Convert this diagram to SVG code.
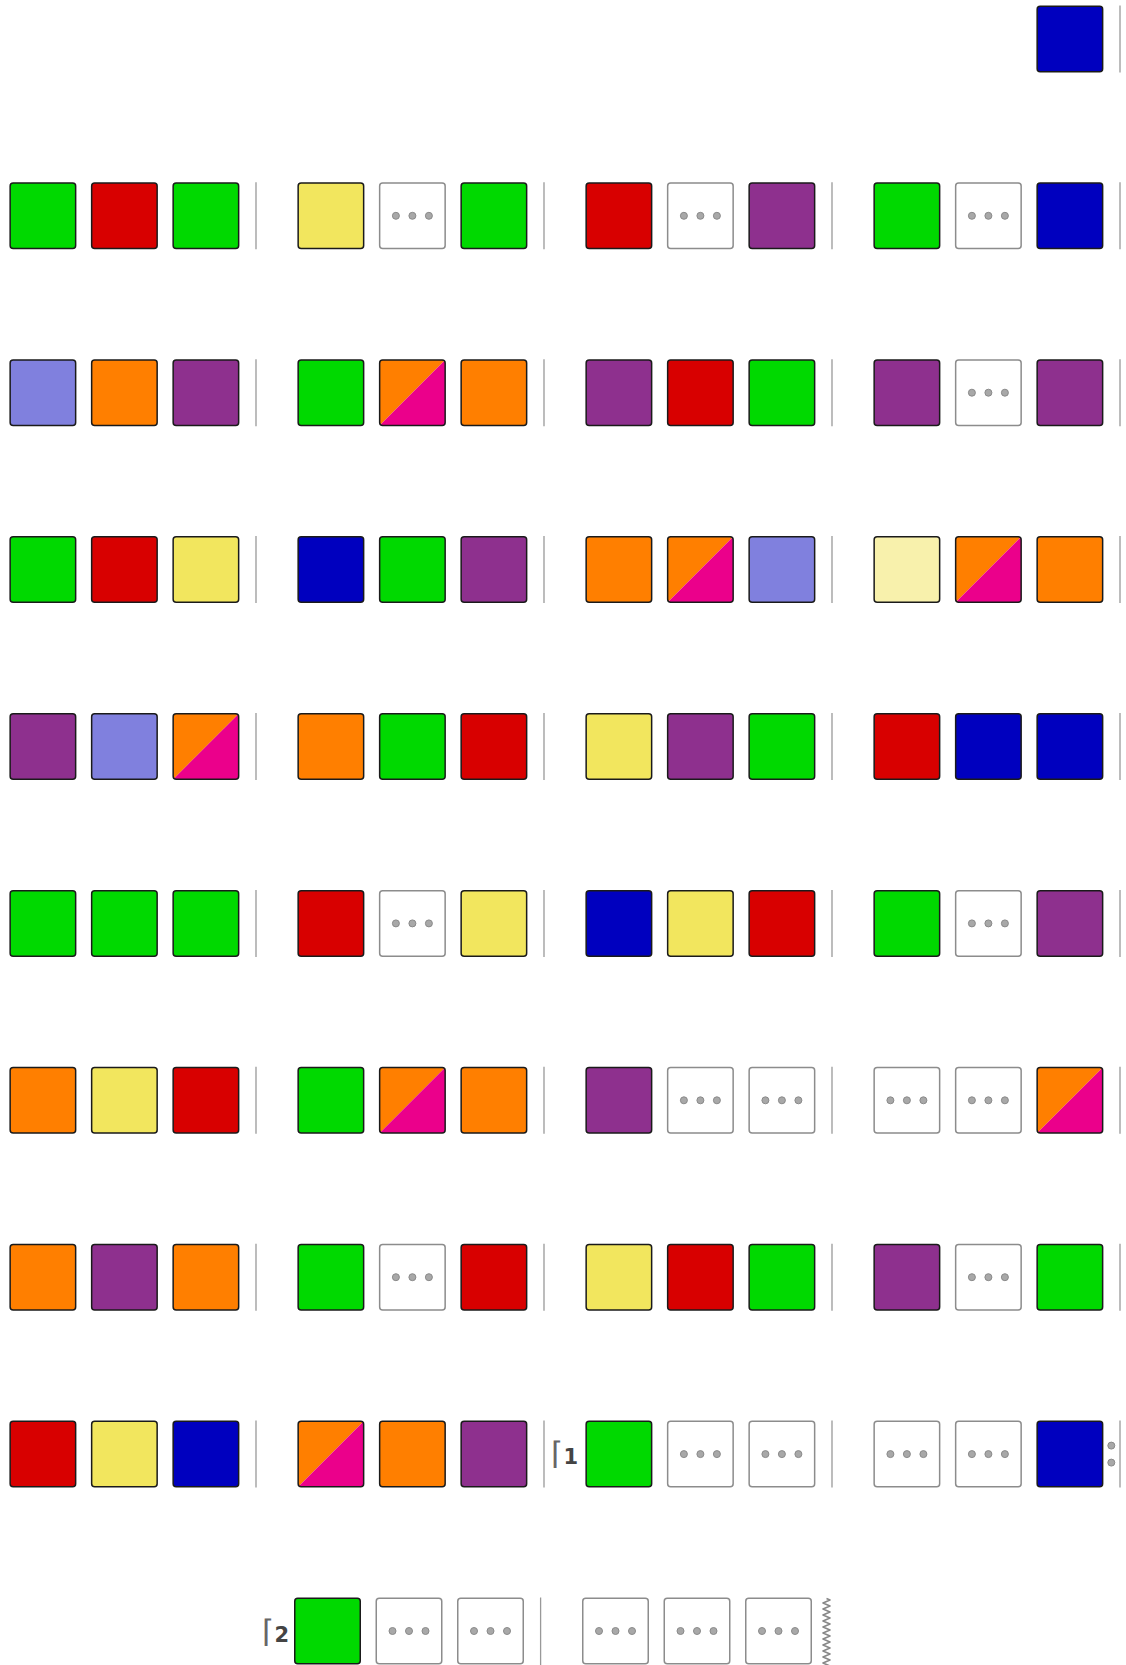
<svg xmlns="http://www.w3.org/2000/svg" xmlns:xlink="http://www.w3.org/1999/xlink" width="1126" height="1665" viewBox="0 0 1126 1665">
<style>
.box{stroke:#1a1a1a;stroke-width:1.5}
.G{fill:#00d900}.R{fill:#d80000}.Y{fill:#f2e65e}.B{fill:#0000bf}.P{fill:#8e308e}.L{fill:#8080de}.O{fill:#ff7f00}.V{fill:#f8f1ac}.M{fill:#eb008b}
.dbox{fill:#fff;stroke:#8c8c8c;stroke-width:1.5}
.dot{fill:#a8a8a8;stroke:#8a8a8a;stroke-width:1}
.bar{stroke:#999;stroke-width:1.3;fill:none}
.wavy{stroke:#888;stroke-width:1.6;fill:none;stroke-linejoin:round}
.volta{font-family:"DejaVu Sans",sans-serif;font-size:21px;fill:#444}
.ceil{font-size:31px;font-weight:200;fill:#666}
</style>
<defs>
<clipPath id="sqclip"><rect x="0.75" y="0.75" width="65.5" height="65.5" rx="3"/></clipPath>
<rect id="sq" class="box" x="0.75" y="0.75" width="65.5" height="65.5" rx="3"/>
<g id="split"><g clip-path="url(#sqclip)"><polygon class="O" points="0,0 67,0 0,67"/><polygon class="M" points="67,0 67,67 0,67"/></g><rect class="box" fill="none" x="0.75" y="0.75" width="65.5" height="65.5" rx="3"/></g>
<g id="dots"><rect class="dbox" x="0.75" y="0.75" width="65.5" height="65.5" rx="3"/><circle class="dot" cx="17" cy="33.5" r="3.5"/><circle class="dot" cx="33.5" cy="33.5" r="3.5"/><circle class="dot" cx="50" cy="33.5" r="3.5"/></g>
</defs>
<rect width="1126" height="1665" fill="#fff"/>

<g id="row0">
<g id="n0-4-3" transform="translate(1036.4,5.4)"><use href="#sq" class="B"/></g>
</g>

<g id="row1">
<g id="n1-1-1" transform="translate(9.4,182.3)"><use href="#sq" class="G"/></g>
<g id="n1-1-2" transform="translate(90.9,182.3)"><use href="#sq" class="R"/></g>
<g id="n1-1-3" transform="translate(172.4,182.3)"><use href="#sq" class="G"/></g>
<g id="n1-2-1" transform="translate(297.4,182.3)"><use href="#sq" class="Y"/></g>
<g id="n1-2-2" transform="translate(378.9,182.3)"><use href="#dots"/></g>
<g id="n1-2-3" transform="translate(460.4,182.3)"><use href="#sq" class="G"/></g>
<g id="n1-3-1" transform="translate(585.4,182.3)"><use href="#sq" class="R"/></g>
<g id="n1-3-2" transform="translate(666.9,182.3)"><use href="#dots"/></g>
<g id="n1-3-3" transform="translate(748.4,182.3)"><use href="#sq" class="P"/></g>
<g id="n1-4-1" transform="translate(873.4,182.3)"><use href="#sq" class="G"/></g>
<g id="n1-4-2" transform="translate(954.9,182.3)"><use href="#dots"/></g>
<g id="n1-4-3" transform="translate(1036.4,182.3)"><use href="#sq" class="B"/></g>
</g>

<g id="row2">
<g id="n2-1-1" transform="translate(9.4,359.2)"><use href="#sq" class="L"/></g>
<g id="n2-1-2" transform="translate(90.9,359.2)"><use href="#sq" class="O"/></g>
<g id="n2-1-3" transform="translate(172.4,359.2)"><use href="#sq" class="P"/></g>
<g id="n2-2-1" transform="translate(297.4,359.2)"><use href="#sq" class="G"/></g>
<g id="n2-2-2" transform="translate(378.9,359.2)"><use href="#split"/></g>
<g id="n2-2-3" transform="translate(460.4,359.2)"><use href="#sq" class="O"/></g>
<g id="n2-3-1" transform="translate(585.4,359.2)"><use href="#sq" class="P"/></g>
<g id="n2-3-2" transform="translate(666.9,359.2)"><use href="#sq" class="R"/></g>
<g id="n2-3-3" transform="translate(748.4,359.2)"><use href="#sq" class="G"/></g>
<g id="n2-4-1" transform="translate(873.4,359.2)"><use href="#sq" class="P"/></g>
<g id="n2-4-2" transform="translate(954.9,359.2)"><use href="#dots"/></g>
<g id="n2-4-3" transform="translate(1036.4,359.2)"><use href="#sq" class="P"/></g>
</g>

<g id="row3">
<g id="n3-1-1" transform="translate(9.4,536)"><use href="#sq" class="G"/></g>
<g id="n3-1-2" transform="translate(90.9,536)"><use href="#sq" class="R"/></g>
<g id="n3-1-3" transform="translate(172.4,536)"><use href="#sq" class="Y"/></g>
<g id="n3-2-1" transform="translate(297.4,536)"><use href="#sq" class="B"/></g>
<g id="n3-2-2" transform="translate(378.9,536)"><use href="#sq" class="G"/></g>
<g id="n3-2-3" transform="translate(460.4,536)"><use href="#sq" class="P"/></g>
<g id="n3-3-1" transform="translate(585.4,536)"><use href="#sq" class="O"/></g>
<g id="n3-3-2" transform="translate(666.9,536)"><use href="#split"/></g>
<g id="n3-3-3" transform="translate(748.4,536)"><use href="#sq" class="L"/></g>
<g id="n3-4-1" transform="translate(873.4,536)"><use href="#sq" class="V"/></g>
<g id="n3-4-2" transform="translate(954.9,536)"><use href="#split"/></g>
<g id="n3-4-3" transform="translate(1036.4,536)"><use href="#sq" class="O"/></g>
</g>

<g id="row4">
<g id="n4-1-1" transform="translate(9.4,713)"><use href="#sq" class="P"/></g>
<g id="n4-1-2" transform="translate(90.9,713)"><use href="#sq" class="L"/></g>
<g id="n4-1-3" transform="translate(172.4,713)"><use href="#split"/></g>
<g id="n4-2-1" transform="translate(297.4,713)"><use href="#sq" class="O"/></g>
<g id="n4-2-2" transform="translate(378.9,713)"><use href="#sq" class="G"/></g>
<g id="n4-2-3" transform="translate(460.4,713)"><use href="#sq" class="R"/></g>
<g id="n4-3-1" transform="translate(585.4,713)"><use href="#sq" class="Y"/></g>
<g id="n4-3-2" transform="translate(666.9,713)"><use href="#sq" class="P"/></g>
<g id="n4-3-3" transform="translate(748.4,713)"><use href="#sq" class="G"/></g>
<g id="n4-4-1" transform="translate(873.4,713)"><use href="#sq" class="R"/></g>
<g id="n4-4-2" transform="translate(954.9,713)"><use href="#sq" class="B"/></g>
<g id="n4-4-3" transform="translate(1036.4,713)"><use href="#sq" class="B"/></g>
</g>

<g id="row5">
<g id="n5-1-1" transform="translate(9.4,889.9)"><use href="#sq" class="G"/></g>
<g id="n5-1-2" transform="translate(90.9,889.9)"><use href="#sq" class="G"/></g>
<g id="n5-1-3" transform="translate(172.4,889.9)"><use href="#sq" class="G"/></g>
<g id="n5-2-1" transform="translate(297.4,889.9)"><use href="#sq" class="R"/></g>
<g id="n5-2-2" transform="translate(378.9,889.9)"><use href="#dots"/></g>
<g id="n5-2-3" transform="translate(460.4,889.9)"><use href="#sq" class="Y"/></g>
<g id="n5-3-1" transform="translate(585.4,889.9)"><use href="#sq" class="B"/></g>
<g id="n5-3-2" transform="translate(666.9,889.9)"><use href="#sq" class="Y"/></g>
<g id="n5-3-3" transform="translate(748.4,889.9)"><use href="#sq" class="R"/></g>
<g id="n5-4-1" transform="translate(873.4,889.9)"><use href="#sq" class="G"/></g>
<g id="n5-4-2" transform="translate(954.9,889.9)"><use href="#dots"/></g>
<g id="n5-4-3" transform="translate(1036.4,889.9)"><use href="#sq" class="P"/></g>
</g>

<g id="row6">
<g id="n6-1-1" transform="translate(9.4,1066.8)"><use href="#sq" class="O"/></g>
<g id="n6-1-2" transform="translate(90.9,1066.8)"><use href="#sq" class="Y"/></g>
<g id="n6-1-3" transform="translate(172.4,1066.8)"><use href="#sq" class="R"/></g>
<g id="n6-2-1" transform="translate(297.4,1066.8)"><use href="#sq" class="G"/></g>
<g id="n6-2-2" transform="translate(378.9,1066.8)"><use href="#split"/></g>
<g id="n6-2-3" transform="translate(460.4,1066.8)"><use href="#sq" class="O"/></g>
<g id="n6-3-1" transform="translate(585.4,1066.8)"><use href="#sq" class="P"/></g>
<g id="n6-3-2" transform="translate(666.9,1066.8)"><use href="#dots"/></g>
<g id="n6-3-3" transform="translate(748.4,1066.8)"><use href="#dots"/></g>
<g id="n6-4-1" transform="translate(873.4,1066.8)"><use href="#dots"/></g>
<g id="n6-4-2" transform="translate(954.9,1066.8)"><use href="#dots"/></g>
<g id="n6-4-3" transform="translate(1036.4,1066.8)"><use href="#split"/></g>
</g>

<g id="row7">
<g id="n7-1-1" transform="translate(9.4,1243.7)"><use href="#sq" class="O"/></g>
<g id="n7-1-2" transform="translate(90.9,1243.7)"><use href="#sq" class="P"/></g>
<g id="n7-1-3" transform="translate(172.4,1243.7)"><use href="#sq" class="O"/></g>
<g id="n7-2-1" transform="translate(297.4,1243.7)"><use href="#sq" class="G"/></g>
<g id="n7-2-2" transform="translate(378.9,1243.7)"><use href="#dots"/></g>
<g id="n7-2-3" transform="translate(460.4,1243.7)"><use href="#sq" class="R"/></g>
<g id="n7-3-1" transform="translate(585.4,1243.7)"><use href="#sq" class="Y"/></g>
<g id="n7-3-2" transform="translate(666.9,1243.7)"><use href="#sq" class="R"/></g>
<g id="n7-3-3" transform="translate(748.4,1243.7)"><use href="#sq" class="G"/></g>
<g id="n7-4-1" transform="translate(873.4,1243.7)"><use href="#sq" class="P"/></g>
<g id="n7-4-2" transform="translate(954.9,1243.7)"><use href="#dots"/></g>
<g id="n7-4-3" transform="translate(1036.4,1243.7)"><use href="#sq" class="G"/></g>
</g>

<g id="row8">
<g id="n8-1-1" transform="translate(9.4,1420.6)"><use href="#sq" class="R"/></g>
<g id="n8-1-2" transform="translate(90.9,1420.6)"><use href="#sq" class="Y"/></g>
<g id="n8-1-3" transform="translate(172.4,1420.6)"><use href="#sq" class="B"/></g>
<g id="n8-2-1" transform="translate(297.4,1420.6)"><use href="#split"/></g>
<g id="n8-2-2" transform="translate(378.9,1420.6)"><use href="#sq" class="O"/></g>
<g id="n8-2-3" transform="translate(460.4,1420.6)"><use href="#sq" class="P"/></g>
<g id="volta1"><text class="volta" x="578" y="1464" text-anchor="end"><tspan class="ceil">⌈</tspan><tspan font-weight="bold">1</tspan></text></g>
<g id="n8-3-1" transform="translate(585.4,1420.6)"><use href="#sq" class="G"/></g>
<g id="n8-3-2" transform="translate(666.9,1420.6)"><use href="#dots"/></g>
<g id="n8-3-3" transform="translate(748.4,1420.6)"><use href="#dots"/></g>
<g id="n8-4-1" transform="translate(873.4,1420.6)"><use href="#dots"/></g>
<g id="n8-4-2" transform="translate(954.9,1420.6)"><use href="#dots"/></g>
<g id="n8-4-3" transform="translate(1036.4,1420.6)"><use href="#sq" class="B"/></g>
<g id="repeat"><circle class="dot" cx="1111.3" cy="1445.6" r="3.5"/><circle class="dot" cx="1111.3" cy="1462.6" r="3.5"/></g>
</g>

<g id="row9">
<g id="volta2"><text class="volta" x="289" y="1642" text-anchor="end"><tspan class="ceil">⌈</tspan><tspan font-weight="bold">2</tspan></text></g>
<g id="n9-1-1" transform="translate(294,1597.5)"><use href="#sq" class="G"/></g>
<g id="n9-1-2" transform="translate(375.5,1597.5)"><use href="#dots"/></g>
<g id="n9-1-3" transform="translate(457,1597.5)"><use href="#dots"/></g>
<g id="n9-2-1" transform="translate(582,1597.5)"><use href="#dots"/></g>
<g id="n9-2-2" transform="translate(663.5,1597.5)"><use href="#dots"/></g>
<g id="n9-2-3" transform="translate(745,1597.5)"><use href="#dots"/></g>
</g>

<g id="barlines">
<line class="bar" x1="1120" y1="5.4" x2="1120" y2="72.4"/>
<line class="bar" x1="256" y1="182.3" x2="256" y2="249.3"/><line class="bar" x1="544" y1="182.3" x2="544" y2="249.3"/><line class="bar" x1="832" y1="182.3" x2="832" y2="249.3"/><line class="bar" x1="1120" y1="182.3" x2="1120" y2="249.3"/>
<line class="bar" x1="256" y1="359.2" x2="256" y2="426.2"/><line class="bar" x1="544" y1="359.2" x2="544" y2="426.2"/><line class="bar" x1="832" y1="359.2" x2="832" y2="426.2"/><line class="bar" x1="1120" y1="359.2" x2="1120" y2="426.2"/>
<line class="bar" x1="256" y1="536" x2="256" y2="603"/><line class="bar" x1="544" y1="536" x2="544" y2="603"/><line class="bar" x1="832" y1="536" x2="832" y2="603"/><line class="bar" x1="1120" y1="536" x2="1120" y2="603"/>
<line class="bar" x1="256" y1="713" x2="256" y2="780"/><line class="bar" x1="544" y1="713" x2="544" y2="780"/><line class="bar" x1="832" y1="713" x2="832" y2="780"/><line class="bar" x1="1120" y1="713" x2="1120" y2="780"/>
<line class="bar" x1="256" y1="889.9" x2="256" y2="956.9"/><line class="bar" x1="544" y1="889.9" x2="544" y2="956.9"/><line class="bar" x1="832" y1="889.9" x2="832" y2="956.9"/><line class="bar" x1="1120" y1="889.9" x2="1120" y2="956.9"/>
<line class="bar" x1="256" y1="1066.8" x2="256" y2="1133.8"/><line class="bar" x1="544" y1="1066.8" x2="544" y2="1133.8"/><line class="bar" x1="832" y1="1066.8" x2="832" y2="1133.8"/><line class="bar" x1="1120" y1="1066.8" x2="1120" y2="1133.8"/>
<line class="bar" x1="256" y1="1243.7" x2="256" y2="1310.7"/><line class="bar" x1="544" y1="1243.7" x2="544" y2="1310.7"/><line class="bar" x1="832" y1="1243.7" x2="832" y2="1310.7"/><line class="bar" x1="1120" y1="1243.7" x2="1120" y2="1310.7"/>
<line class="bar" x1="256" y1="1420.6" x2="256" y2="1487.6"/><line class="bar" x1="544" y1="1420.6" x2="544" y2="1487.6"/><line class="bar" x1="832" y1="1420.6" x2="832" y2="1487.6"/><line class="bar" x1="1120" y1="1420.6" x2="1120" y2="1487.6"/>
<line class="bar" x1="540.6" y1="1597.5" x2="540.6" y2="1665"/>
<path class="wavy" d="M826.5,1598.5 l3.5,1.5 l-7,3 l7,3 l-7,3 l7,3 l-7,3 l7,3 l-7,3 l7,3 l-7,3 l7,3 l-7,3 l7,3 l-7,3 l7,3 l-7,3 l7,3 l-7,3 l7,3 l-7,3 l7,3 l-7,3 l7,3"/>
</g>
</svg>
